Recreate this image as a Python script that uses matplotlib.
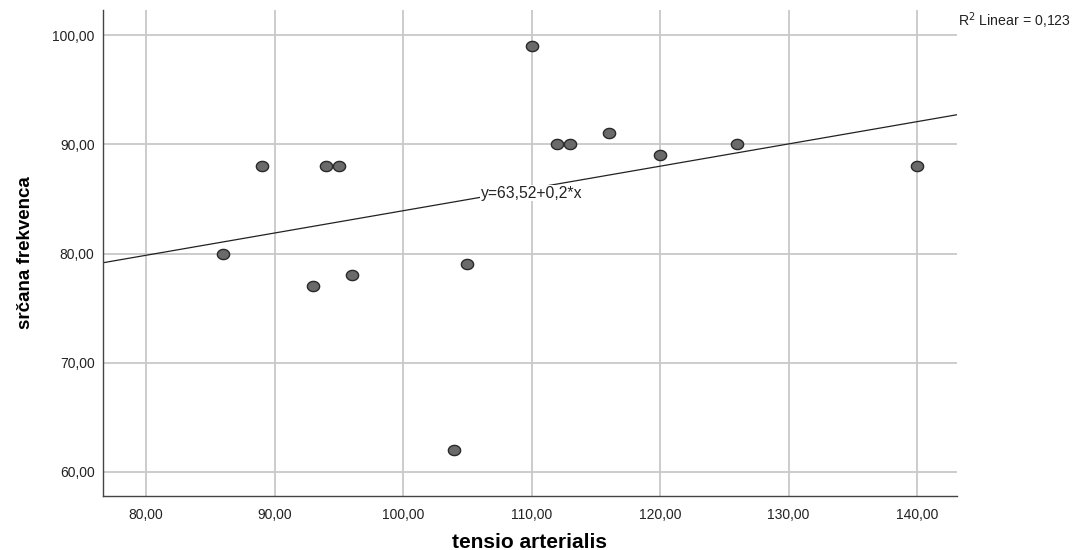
import numpy as np
import matplotlib
matplotlib.use("Agg")
import matplotlib.pyplot as plt
from matplotlib.path import Path

plt.rcParams['font.family'] = ['Liberation Sans', 'DejaVu Sans']

# Blood pressure vs heart rate observations
tensio = [86, 89, 93, 94, 95, 96, 104, 105, 110, 112, 113, 116, 120, 126, 140]
frekvenca = [80, 88, 77, 88, 88, 78, 62, 79, 99, 90, 90, 91, 89, 90, 88]

# Linear fit shown on the chart
intercept = 63.52
slope = 0.204
r_squared = 0.123

x_ticks = [80, 90, 100, 110, 120, 130, 140]
y_ticks = [60, 70, 80, 90, 100]

fig = plt.figure(figsize=(10.78, 5.5), dpi=100)
ax = fig.add_axes([0.0955, 0.0982, 0.7923, 0.8836])

ax.set_xlim(76.65, 143.1)
ax.set_ylim(57.8, 102.3)

ax.set_xticks(x_ticks)
ax.set_yticks(y_ticks)
ax.set_xticklabels([f"{v:.2f}".replace('.', ',') for v in x_ticks])
ax.set_yticklabels([f"{v:.2f}".replace('.', ',') for v in y_ticks])
ax.tick_params(length=0, labelsize=10, colors='#222222')
ax.tick_params(axis='x', pad=9)
ax.tick_params(axis='y', pad=6)

ax.grid(True, color='#c8c8c8', linewidth=1.3)
ax.set_axisbelow(True)
for side in ('top', 'right'):
    ax.spines[side].set_visible(False)
for side in ('left', 'bottom'):
    ax.spines[side].set_color('#444444')
    ax.spines[side].set_linewidth(1.0)

# Regression line across the full x range
xl = np.array(ax.get_xlim())
ax.plot(xl, intercept + slope * xl, color='#222222', linewidth=0.9, zorder=2)

# Slightly wide elliptical point marker
t = np.linspace(0, 2 * np.pi, 40)
ellipse = Path(np.column_stack([1.2 * np.cos(t), np.sin(t)]), closed=True)
ax.scatter(tensio, frekvenca, s=78, marker=ellipse, facecolor='#6a6a6a',
           edgecolor='#2a2a2a', linewidth=1.0, zorder=3)

eq = f"y={intercept:.2f}+{slope:.1f}*x".replace('.', ',')
ax.text(110, intercept + slope * 110 - 0.45, eq, ha='center', va='center',
        fontsize=11.3, color='#222222', zorder=2.5,
        bbox=dict(facecolor='white', edgecolor='none', pad=0.5))

fig.text(0.889, 0.962, f"R$^2$ Linear = {r_squared:.3f}".replace('.', ','),
         fontsize=10.2, color='#222222', ha='left', va='center')

ax.set_xlabel('tensio arterialis', fontsize=15, fontweight='bold', va='center')
ax.xaxis.set_label_coords(0.5, -0.095)
ax.set_ylabel('srčana frekvenca', fontsize=13.5, fontweight='bold', va='center')
ax.yaxis.set_label_coords(-0.091, 0.5)

fig.savefig('out.png', dpi=100)
